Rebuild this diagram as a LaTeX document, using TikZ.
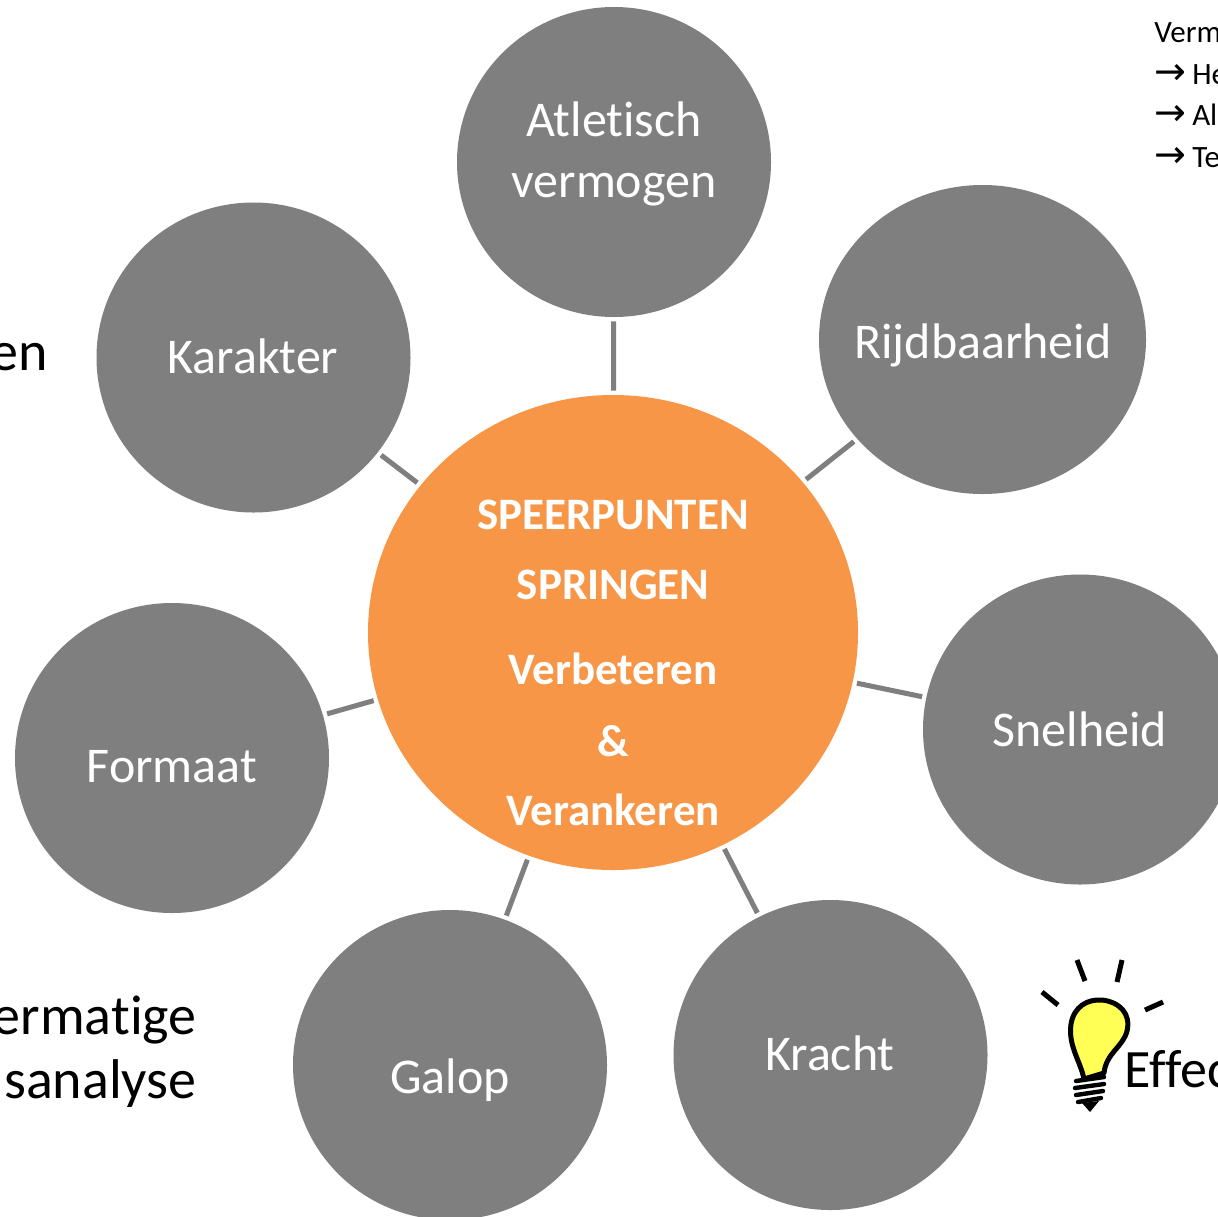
\documentclass[tikz,border=0pt]{standalone}
\usepackage{fontspec}
\setmainfont{Carlito}[Ligatures={NoCommon,NoContextual}]
\newfontfamily\arrowfont{DejaVu Sans}
\usetikzlibrary{shapes.geometric}
\definecolor{bubblegray}{RGB}{127,127,127}
\definecolor{hubor}{RGB}{247,150,70}
\definecolor{bulbyellow}{RGB}{255,255,85}
\newcommand{\notearrow}{{\arrowfont\fontsize{19}{20}\selectfont →}\hspace{3pt}}
\begin{document}
\begin{tikzpicture}[x=0.5pt,y=-0.5pt,
  bubble/.style={ellipse, fill=bubblegray, inner sep=0pt, minimum width=157pt, minimum height=155pt},
  hub/.style={ellipse, fill=hubor, inner sep=0pt, minimum width=245pt, minimum height=237.5pt},
  bubbletext/.style={anchor=base, text=white, font=\fontsize{25}{30}\selectfont, inner sep=0pt},
  hubtext/.style={anchor=base, text=white, font=\fontsize{22.5}{27}\selectfont\bfseries, inner sep=0pt},
  spoke/.style={draw=bubblegray, line width=2.5pt, shorten <=2pt, shorten >=2pt},
  sidetext/.style={anchor=base east, font=\fontsize{28}{30}\selectfont, inner sep=0pt},
  notetext/.style={anchor=base west, font=\fontsize{15.5}{20}\selectfont, inner sep=0pt},
  efftext/.style={anchor=base west, font=\fontsize{27}{30}\selectfont, inner sep=0pt},
  ray/.style={draw=black, line width=2.5pt},
  bulbline/.style={draw=black, line width=2.5pt, line join=round},
  screw/.style={draw=black, line width=2.2pt, line cap=round}]
\useasboundingbox (0,0) rectangle (1218,1216);
\clip (0,0) rectangle (1218,1216);
\fill[white] (0,0) rectangle (1218,1216);

% bubbles
\node[bubble] (atl) at (614,162) {};
\node[bubble] (kar) at (253.5,357.5) {};
\node[bubble, minimum width=163.5pt, minimum height=154.5pt] (rij) at (982.5,339.5) {};
\node[bubble] (sne) at (1080,729.5) {};
\node[bubble] (for) at (172,758) {};
\node[bubble] (gal) at (450,1065) {};
\node[bubble] (kra) at (830.5,1055) {};
\node[hub] (hubc) at (613,632.5) {};

% spokes
\draw[spoke] (atl) -- (hubc);
\draw[spoke] (kar) -- (hubc);
\draw[spoke] (rij) -- (hubc);
\draw[spoke] (sne) -- (hubc);
\draw[spoke] (for) -- (hubc);
\draw[spoke] (gal) -- (hubc);
\draw[spoke] (kra) -- (hubc);

% bubble texts
\node[bubbletext] (atlA) at (614,136) {Atlet\kern0pt isch};
\node[bubbletext] (atlB) at (614,197) {vermogen};
\node[bubbletext] (karT) at (253,373) {Karakter};
\node[bubbletext] (rijT) at (983,358) {Rijdbaarheid};
\node[bubbletext] (sneT) at (1080,746) {Snelheid};
\node[bubbletext] (forT) at (172,782) {Formaat};
\node[bubbletext] (galT) at (450,1093) {Galop};
\node[bubbletext] (kraT) at (830,1070) {Kracht};

% hub texts
\node[hubtext] (h1) at (613,529) {SPEERPUNTEN};
\node[hubtext] (h2) at (613,599) {SPRINGEN};
\node[hubtext] (h3) at (613,684) {Verbeteren};
\node[hubtext] (h4) at (613,756) {\&};
\node[hubtext] (h5) at (613,825) {Verankeren};

% side texts (cropped by the frame)
\node[sidetext] (s1) at (48,370) {en};
\node[sidetext] (s2) at (197,1034) {ermat\kern0pt ige};
\node[sidetext] (s3) at (197,1098) {sanalyse};

\node[notetext] (n1) at (1154,42) {Verm};
\node[notetext] (n2) at (1154,84) {\notearrow He};
\node[notetext] (n3) at (1154,125) {\notearrow Al};
\node[notetext] (n4) at (1154,167) {\notearrow Te};

\node[efftext] (eff) at (1124,1087) {Effec};

% light bulb
\draw[ray] (1042,992) -- (1058,1005);
\draw[ray] (1077,960) -- (1085,981);
\draw[ray] (1122,960) -- (1117,982);
\draw[ray] (1145,1010) -- (1163,1002);
\draw[bulbline, fill=bulbyellow] (1084,1079)
  .. controls (1080,1060) and (1068,1046) .. (1071,1024)
  .. controls (1074,1006) and (1088,999) .. (1102,1000)
  .. controls (1120,1002) and (1131,1014) .. (1127,1031)
  .. controls (1123,1047) and (1106,1053) .. (1104,1073)
  -- cycle;
\draw[screw] (1076,1081) -- (1104,1077);
\draw[screw] (1075,1088) -- (1104,1084);
\draw[screw] (1076,1095) -- (1103,1091);
\draw[screw] (1078,1102) -- (1101,1098);
\fill[black] (1082,1103) -- (1099,1101) -- (1090,1112) -- cycle;
\end{tikzpicture}
\end{document}
